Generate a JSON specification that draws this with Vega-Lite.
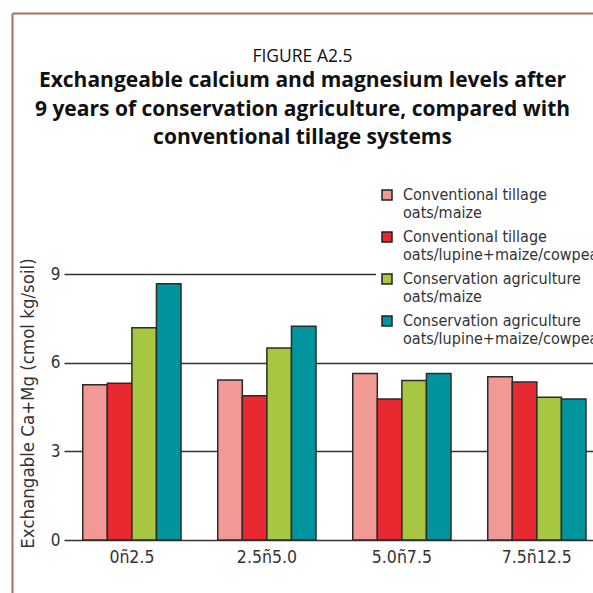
{
  "$schema": "https://vega.github.io/schema/vega-lite/v6.json",
  "width": 581,
  "height": 580,
  "autosize": {"type": "none"},
  "padding": {"left": 12, "top": 13, "right": 0, "bottom": 0},
  "background": "white",
  "config": {
    "view": {"stroke": null},
    "font": "DejaVu Sans Condensed, Roboto, sans-serif",
    "style": {"guide-label": {"lineHeight": 18.4}}
  },
  "title": {
    "text": "FIGURE A2.5",
    "subtitle": [
      "Exchangeable calcium and magnesium levels after",
      "9 years of conservation agriculture, compared with",
      "conventional tillage systems"
    ],
    "anchor": "middle",
    "frame": "group",
    "orient": "top",
    "offset": -135,
    "font": "Open Sans",
    "fontSize": 17.5,
    "fontWeight": "normal",
    "color": "#111111",
    "subtitleFont": "Open Sans",
    "subtitleFontSize": 21,
    "subtitleFontWeight": "bold",
    "subtitleColor": "#111111",
    "subtitleLineHeight": 28.3,
    "subtitlePadding": 5
  },
  "data": {
    "values": [
      {"depth": "0ñ2.5", "system": "Conventional tillage|oats/maize", "value": 5.25},
      {"depth": "0ñ2.5", "system": "Conventional tillage|oats/lupine+maize/cowpea", "value": 5.30},
      {"depth": "0ñ2.5", "system": "Conservation agriculture|oats/maize", "value": 7.18},
      {"depth": "0ñ2.5", "system": "Conservation agriculture|oats/lupine+maize/cowpea", "value": 8.67},
      {"depth": "2.5ñ5.0", "system": "Conventional tillage|oats/maize", "value": 5.41},
      {"depth": "2.5ñ5.0", "system": "Conventional tillage|oats/lupine+maize/cowpea", "value": 4.88},
      {"depth": "2.5ñ5.0", "system": "Conservation agriculture|oats/maize", "value": 6.50},
      {"depth": "2.5ñ5.0", "system": "Conservation agriculture|oats/lupine+maize/cowpea", "value": 7.23},
      {"depth": "5.0ñ7.5", "system": "Conventional tillage|oats/maize", "value": 5.63},
      {"depth": "5.0ñ7.5", "system": "Conventional tillage|oats/lupine+maize/cowpea", "value": 4.77},
      {"depth": "5.0ñ7.5", "system": "Conservation agriculture|oats/maize", "value": 5.40},
      {"depth": "5.0ñ7.5", "system": "Conservation agriculture|oats/lupine+maize/cowpea", "value": 5.63},
      {"depth": "7.5ñ12.5", "system": "Conventional tillage|oats/maize", "value": 5.52},
      {"depth": "7.5ñ12.5", "system": "Conventional tillage|oats/lupine+maize/cowpea", "value": 5.35},
      {"depth": "7.5ñ12.5", "system": "Conservation agriculture|oats/maize", "value": 4.83},
      {"depth": "7.5ñ12.5", "system": "Conservation agriculture|oats/lupine+maize/cowpea", "value": 4.77}
    ]
  },
  "encoding": {
    "x": {
      "field": "depth",
      "type": "nominal",
      "sort": null,
      "scale": {"paddingInner": 0.272, "paddingOuter": 0.288, "align": 0.91}
    },
    "y": {
      "field": "value",
      "type": "quantitative",
      "stack": null,
      "scale": {"domain": [-1.793, 17.831], "nice": false, "zero": false}
    }
  },
  "layer": [
    {
      "mark": {"type": "point", "opacity": 0},
      "encoding": {
        "x": {
          "field": "depth",
          "type": "nominal",
          "sort": null,
          "axis": {"orient": "top", "domain": true, "domainColor": "#a3705f", "domainWidth": 2, "ticks": false, "labels": false, "title": null, "grid": false}
        },
        "y": {
          "field": "value",
          "type": "quantitative",
          "axis": {"orient": "left", "domain": true, "domainColor": "#a3705f", "domainWidth": 2, "ticks": false, "labels": false, "title": null, "grid": false}
        }
      }
    },
    {
      "mark": {"type": "bar", "stroke": "#2b2b2b", "strokeWidth": 1.5},
      "encoding": {
        "x": {
          "field": "depth",
          "type": "nominal",
          "sort": null,
          "axis": {"orient": "bottom", "offset": -53, "domain": false, "ticks": false, "grid": false, "title": null, "labelAngle": 0, "labelFontSize": 17.5, "labelColor": "#333333", "labelPadding": 8}
        },
        "xOffset": {
          "field": "system",
          "type": "nominal",
          "sort": null,
          "scale": {"paddingInner": 0, "paddingOuter": 0}
        },
        "y": {
          "field": "value",
          "type": "quantitative",
          "stack": null,
          "axis": {
            "orient": "left",
            "offset": -582,
            "values": [0, 3, 6, 9],
            "domain": false,
            "grid": false,
            "ticks": true,
            "tickSize": 530,
            "tickColor": "#333333",
            "tickWidth": 1.5,
            "labelPadding": 4,
            "labelFontSize": 17,
            "labelColor": "#333333",
            "title": "Exchangable Ca+Mg (cmol kg/soil)",
            "titleFontSize": 18.5,
            "titleFontWeight": "normal",
            "titleColor": "#333333",
            "titleX": -567,
            "titleY": 390,
            "titleAngle": -90,
            "titleAlign": "center",
            "titleBaseline": "middle"
          }
        },
        "y2": {"datum": 0},
        "color": {
          "field": "system",
          "type": "nominal",
          "sort": null,
          "scale": {
            "domain": [
              "Conventional tillage|oats/maize",
              "Conventional tillage|oats/lupine+maize/cowpea",
              "Conservation agriculture|oats/maize",
              "Conservation agriculture|oats/lupine+maize/cowpea"
            ],
            "range": ["#f19a95", "#e8292f", "#a7c742", "#00949d"]
          },
          "legend": {
            "orient": "none",
            "legendX": 364,
            "legendY": 171,
            "title": null,
            "labelExpr": "split(datum.label, '|')",
            "labelFontSize": 16,
            "labelColor": "#333333",
            "labelLimit": 400,
            "labelOffset": 8,
            "symbolType": "square",
            "symbolSize": 100,
            "symbolStrokeColor": "#222222",
            "symbolStrokeWidth": 1.5,
            "fillColor": "white",
            "padding": 3,
            "rowPadding": 7
          }
        }
      }
    }
  ],
  "resolve": {"axis": {"x": "independent", "y": "independent"}}
}
